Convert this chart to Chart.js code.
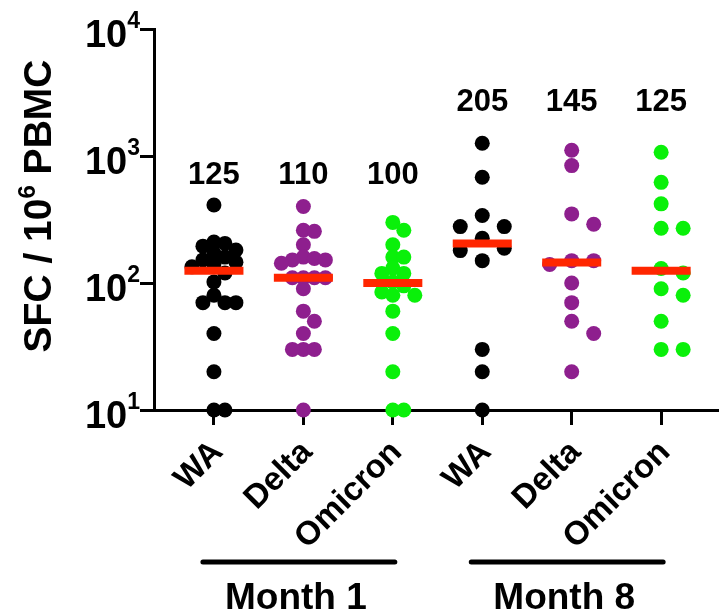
<!DOCTYPE html>
<html>
<head>
<meta charset="utf-8">
<script src="https://cdn.jsdelivr.net/npm/chart.js@4.4.1/dist/chart.umd.min.js"></script>
<style>
  html, body { margin: 0; padding: 0; background: #fff; }
  #wrap { width: 725px; height: 614px; position: relative; }
</style>
</head>
<body>
<div id="wrap"><canvas id="chart"></canvas></div>
<script>
// categories and groups
const categories = ['WA', 'Delta', 'Omicron', 'WA', 'Delta', 'Omicron'];
const groupLabels = ['Month 1', 'Month 8'];
const yTicks = [10, 100, 1000, 10000];

// SFC per 10^6 PBMC
const wa1 = [411, 210, 205, 195, 182, 172, 160, 152, 146, 141, 134, 120, 102, 80, 70, 70, 70, 40, 20, 10, 10];
const delta1 = [400, 260, 255, 200, 160, 156, 152, 152, 143, 110, 110, 110, 110, 90, 60, 50, 40, 30, 30, 30, 10];
const omicron1 = [300, 260, 200, 160, 160, 131, 119, 119, 102, 95, 85, 80, 80, 60, 40, 20, 10, 10];
const wa8 = [1260, 680, 340, 278, 278, 225, 188, 180, 150, 30, 20, 10];
const delta8 = [1110, 840, 350, 290, 150, 150, 140, 100, 70, 50, 40, 20];
const omicron8 = [1070, 620, 420, 270, 270, 130, 120, 90, 80, 50, 30, 30];
const medians = [125, 110, 100, 205, 145, 125];

const series = [wa1, delta1, omicron1, wa8, delta8, omicron8];
const dotColors = ['#000000', '#8e1f8e', '#0af00a', '#000000', '#8e1f8e', '#0af00a'];
const FONT = "'Liberation Sans', Arial, sans-serif";

const datasets = [];
// median bars first so they sit on top (lower order)
medians.forEach(function(m, i) {
    datasets.push({
        type: 'line',
        data: [{x: i - 0.33, y: m}, {x: i + 0.33, y: m}],
        borderColor: 'rgb(255,38,0)',
        borderWidth: 8,
        borderCapStyle: 'butt',
        pointRadius: 0,
        order: 0,
        clip: false
    });
});
series.forEach(function(vals, i) {
    datasets.push({
        type: 'scatter',
        data: vals.map(v => ({x: i, y: v})),
        backgroundColor: dotColors[i],
        borderWidth: 0,
        pointRadius: 7.5,
        order: 1,
        clip: false
    });
});

// text that Chart.js can't do by itself (superscripts, rotated labels, group bars)
const annotate = {
    id: 'annotate',
    afterDraw(chart) {
        const ctx = chart.ctx;
        const xs = chart.scales.x, ys = chart.scales.y;
        ctx.save();
        ctx.fillStyle = '#000';

        // y tick labels 10^n
        yTicks.forEach(function(v) {
            const y = ys.getPixelForValue(v);
            const exp = String(Math.round(Math.log10(v)));
            ctx.font = 'bold 23px ' + FONT;
            const ew = ctx.measureText(exp).width;
            ctx.textAlign = 'left';
            ctx.textBaseline = 'alphabetic';
            ctx.fillText(exp, 140 - ew, y - 1);
            ctx.font = 'bold 38px ' + FONT;
            ctx.textAlign = 'right';
            ctx.fillText('10', 140 - ew, y + 18);
        });

        // y title with superscript 6
        ctx.save();
        ctx.translate(51, 206);
        ctx.rotate(-Math.PI / 2);
        ctx.textBaseline = 'alphabetic';
        ctx.textAlign = 'left';
        const big = 'bold 39px ' + FONT, small = 'bold 24px ' + FONT;
        ctx.font = big;
        const w1 = ctx.measureText('SFC / 10').width;
        const w3 = ctx.measureText(' PBMC').width;
        ctx.font = small;
        const w2 = ctx.measureText('6').width;
        let x0 = -(w1 + w2 + w3) / 2;
        ctx.font = big;
        ctx.fillText('SFC / 10', x0, 0);
        ctx.font = small;
        ctx.fillText('6', x0 + w1, -16);
        ctx.font = big;
        ctx.fillText(' PBMC', x0 + w1 + w2, 0);
        ctx.restore();

        // rotated category labels
        ctx.font = 'bold 33px ' + FONT;
        categories.forEach(function(c, i) {
            const px = xs.getPixelForValue(i);
            ctx.save();
            ctx.translate(px + 4, 447);
            ctx.rotate(-Math.PI / 4);
            ctx.textAlign = 'right';
            ctx.textBaseline = 'middle';
            ctx.fillText(c, 0, 0);
            ctx.restore();
        });

        // median numbers above each column
        ctx.font = 'bold 31px ' + FONT;
        ctx.textAlign = 'center';
        ctx.textBaseline = 'middle';
        medians.forEach(function(m, i) {
            const y = ys.getPixelForValue(i < 3 ? 700 : 2620);
            ctx.fillText(String(m), xs.getPixelForValue(i), y);
        });

        // group bars and month labels
        ctx.lineWidth = 5;
        ctx.lineCap = 'round';
        ctx.strokeStyle = '#000';
        groupLabels.forEach(function(g, k) {
            const a = xs.getPixelForValue(k * 3) - 11;
            const b = xs.getPixelForValue(k * 3 + 2) + 2;
            ctx.beginPath();
            ctx.moveTo(a, 562);
            ctx.lineTo(b, 562);
            ctx.stroke();
            ctx.font = 'bold 37px ' + FONT;
            ctx.textAlign = 'center';
            ctx.textBaseline = 'alphabetic';
            ctx.fillText(g, (a + b) / 2 - 3, 609);
        });
        ctx.restore();
    }
};

const chart = new Chart(document.getElementById('chart'), {
    data: { datasets: datasets },
    options: {
        responsive: true,
        maintainAspectRatio: false,
        animation: false,
        events: [],
        layout: { padding: { left: 140, top: 29, right: 0, bottom: 189 } },
        plugins: { legend: { display: false }, tooltip: { enabled: false } },
        scales: {
            x: {
                type: 'linear',
                min: -0.67,
                max: 5.63,
                afterBuildTicks: function(scale) {
                    scale.ticks = categories.map((c, i) => ({value: i}));
                },
                ticks: { display: false },
                grid: { drawOnChartArea: false, color: '#000', lineWidth: 3, tickLength: 15 },
                border: { color: '#000', width: 3 }
            },
            y: {
                type: 'logarithmic',
                min: 10,
                max: 10000,
                afterBuildTicks: function(scale) {
                    scale.ticks = yTicks.map(v => ({value: v, major: true}));
                },
                ticks: { display: false },
                grid: { drawOnChartArea: false, color: '#000', lineWidth: 3, tickLength: 14 },
                border: { color: '#000', width: 3 }
            }
        }
    },
    plugins: [annotate]
});

// spread the dots sideways like a column scatter (beeswarm), using pixel distances.
// sparse columns get wider slots, like the original
function swarm(vals, idx) {
    const xs = chart.scales.x, ys = chart.scales.y;
    const unit = xs.getPixelForValue(1) - xs.getPixelForValue(0);
    const sparse = vals.length <= 12;
    const STEP = sparse ? 22 : 11, GAP = sparse ? 15 : 10.5;
    const placed = [];
    const out = new Array(vals.length);
    const order = vals.map((v, i) => i).sort((a, b) => vals[b] - vals[a]);
    order.forEach(function(i) {
        const py = ys.getPixelForValue(vals[i]);
        for (let k = 0; k < 30; k++) {
            const off = (k % 2 ? 1 : -1) * Math.ceil(k / 2) * STEP;
            const free = placed.every(p => Math.hypot(p.x - off, p.y - py) >= GAP);
            if (free) {
                placed.push({x: off, y: py});
                out[i] = {x: idx + off / unit, y: vals[i]};
                break;
            }
        }
    });
    return out;
}

series.forEach(function(vals, i) {
    chart.data.datasets[medians.length + i].data = swarm(vals, i);
});
chart.update('none');
</script>
</body>
</html>
